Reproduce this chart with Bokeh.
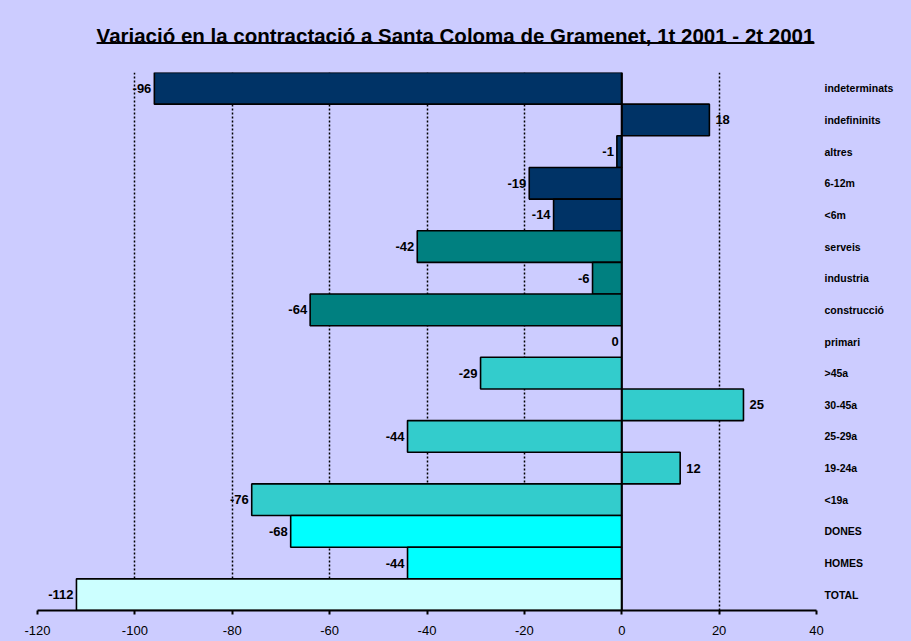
from bokeh.plotting import figure
from bokeh.layouts import column
from bokeh.models import (FactorRange, Range1d, CategoricalAxis, Span, Div,
                          ColumnDataSource, FixedTicker, PrintfTickFormatter)
from bokeh.core.properties import value
from bokeh.embed import file_html
from bokeh.resources import INLINE

# ---- data ----
categories = ["indeterminats", "indefininits", "altres", "6-12m", "<6m",
              "serveis", "industria", "construcció", "primari",
              ">45a", "30-45a", "25-29a", "19-24a", "<19a",
              "DONES", "HOMES", "TOTAL"]
values = [-96, 18, -1, -19, -14,
          -42, -6, -64, 0,
          -29, 25, -44, 12, -76,
          -68, -44, -112]
groups = ["contracte"] * 5 + ["sector"] * 4 + ["edat"] * 5 + ["sexe"] * 2 + ["total"]
group_colors = {"contracte": "#003366", "sector": "#008080", "edat": "#33CCCC",
                "sexe": "#00FFFF", "total": "#CCFFFF"}
x_ticks = [-120, -100, -80, -60, -40, -20, 0, 20, 40]
grid_ticks = [-120, -100, -80, -60, -40, -20, 20]
title_text = "Variació en la contractació a Santa Coloma de Gramenet, 1t 2001 - 2t 2001"

BG = "#CCCCFF"
FONT = "Liberation Sans"
W = 911

title = Div(
    text=('<div style="width:%dpx;text-align:center;padding-top:26px;'
          'font-family:\'Liberation Sans\',Arial,sans-serif;font-size:20.5px;'
          'font-weight:bold;line-height:20px;color:black;'
          'text-decoration:underline;text-decoration-thickness:2px;'
          'text-decoration-skip-ink:none;'
          'text-underline-offset:-1px;">%s</div>') % (W, title_text),
    width=W, height=64, margin=(0, 0, 0, 0))

p = figure(width=W, height=577, output_backend="svg", toolbar_location=None,
           x_range=Range1d(-120, 40),
           y_range=FactorRange(*reversed(categories), range_padding=0),
           y_axis_location=None,
           min_border_left=37, min_border_right=95, min_border_top=8,
           min_border_bottom=31,
           background_fill_color=BG, border_fill_color=BG,
           outline_line_color=None, margin=(0, 0, 0, 0))

# grid
p.ygrid.visible = False
p.xgrid.ticker = FixedTicker(ticks=grid_ticks)
p.xgrid.grid_line_color = "black"
p.xgrid.grid_line_dash = "2 2"
p.xgrid.grid_line_width = 1.5

# bars
src = ColumnDataSource(dict(
    cat=categories,
    val=values,
    color=[group_colors[g] for g in groups],
    text=[str(v) for v in values],
    align=["left" if v > 0 else "right" for v in values],
    xoff=[6 if v > 0 else -3 for v in values],
))
p.hbar(y="cat", left=0, right="val", height=1.0, fill_color="color",
       line_color="black", line_width=1.6, source=src)

# value labels
p.text(x="val", y="cat", text="text", text_align="align", x_offset="xoff",
       text_baseline="middle", text_font=value(FONT), text_font_style="bold",
       text_font_size="13px", text_color="black", source=src)

# vertical axis line at 0
p.add_layout(Span(location=0, dimension="height", line_color="black", line_width=2))

# bottom axis
ax = p.xaxis[0]
ax.ticker = FixedTicker(ticks=x_ticks)
ax.formatter = PrintfTickFormatter(format="%d")
ax.axis_line_width = 2
ax.axis_line_color = "black"
ax.major_tick_line_color = "black"
ax.major_tick_line_width = 2
ax.major_tick_out = 4
ax.major_tick_in = 0
ax.minor_tick_line_color = None
ax.major_label_text_font = FONT
ax.major_label_text_font_size = "13px"
ax.major_label_text_color = "black"
ax.major_label_standoff = 11

# right category labels
ra = CategoricalAxis(axis_line_color=None, major_tick_line_color=None,
                     minor_tick_line_color=None, major_tick_out=0, major_tick_in=0,
                     major_label_standoff=8,
                     major_label_text_font=FONT, major_label_text_font_style="bold",
                     major_label_text_font_size="10.5px", major_label_text_color="black")
p.add_layout(ra, "right")

layout = column(title, p, spacing=0, margin=(0, 0, 0, 0),
                styles={"background-color": BG})

html = file_html(layout, INLINE)
html = html.replace("</head>", "<style>body{background:#CCCCFF;}</style></head>", 1)
open("out.html", "w").write(html)
